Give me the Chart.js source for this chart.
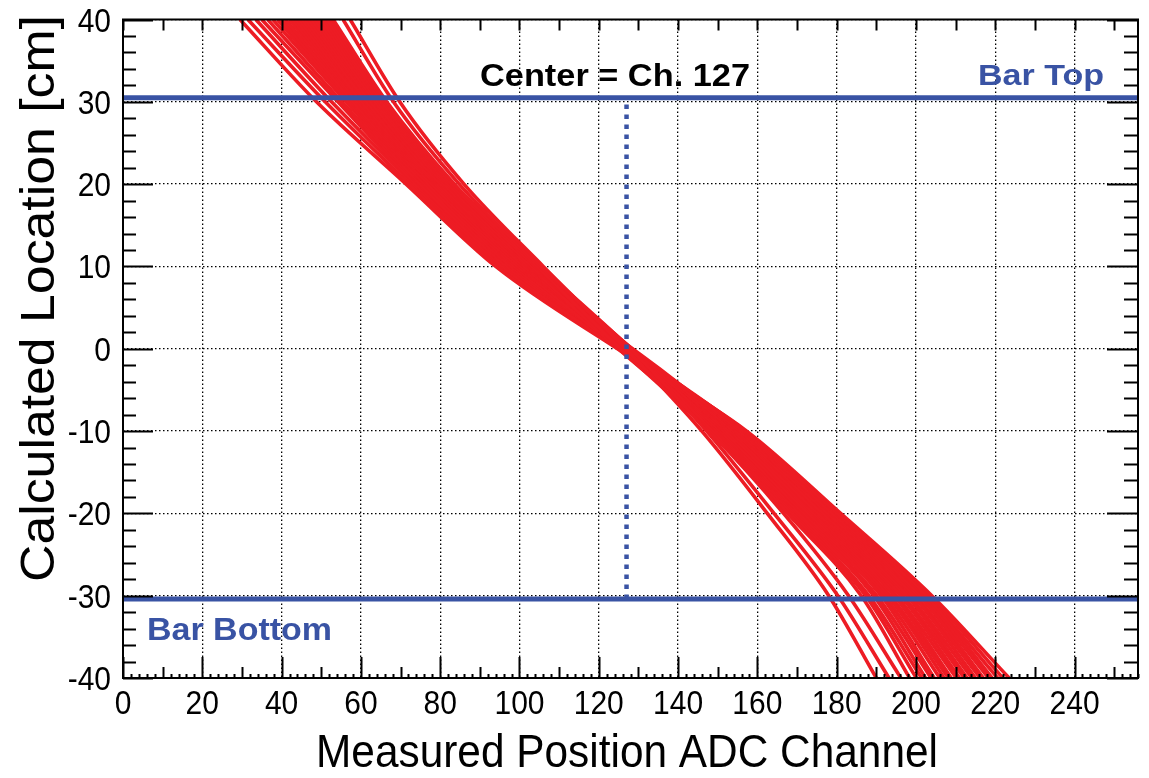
<!DOCTYPE html>
<html lang="en">
<head>
  <meta charset="UTF-8" />
  <title>Calculated Location vs Measured Position ADC Channel</title>
  <script src="https://cdn.jsdelivr.net/npm/chart.js"></script>
  <style>
    html, body { margin: 0; padding: 0; background: #fff; }
  </style>
</head>
<body>
  <canvas id="grafico" width="1149" height="778"></canvas>

  <script>
    // --- data ---
    const xTicks = [0, 20, 40, 60, 80, 100, 120, 140, 160, 180, 200, 220, 240];
    const yTicks = [-40, -30, -20, -10, 0, 10, 20, 30, 40];
    const xMin = 0, xMax = 256;
    const yMin = -40, yMax = 40;

    const barTopY = 30.5;
    const barBottomY = -30.4;
    const centerCh = 127;

    // each calibration curve: ADC channel at these locations [cm]
    const yLevels = [40, 30, 20, 10, 0, -10, -20, -30, -40];
    const curves = [
      [57.3, 69.8, 86.0, 106.0, 126.8, 146.0, 162.5, 178.0, 190.0],
      [55.5, 68.2, 84.8, 105.3, 127.9, 147.2, 164.2, 180.3, 193.2],
      [53.0, 66.5, 83.6, 104.6, 125.4, 147.8, 166.6, 183.0, 196.2],
      [52.3, 66.0, 83.0, 104.1, 128.2, 148.5, 167.6, 186.2, 198.4],
      [51.5, 65.4, 82.7, 103.9, 126.1, 148.8, 168.3, 187.3, 200.1],
      [50.8, 65.0, 82.1, 103.3, 127.5, 149.3, 168.9, 188.1, 201.4],
      [50.0, 64.4, 81.7, 103.0, 124.9, 149.5, 169.5, 189.3, 202.4],
      [49.2, 63.7, 81.1, 102.5, 126.6, 150.1, 170.2, 190.1, 203.8],
      [48.4, 63.3, 80.8, 102.2, 128.4, 150.3, 170.5, 191.2, 204.6],
      [47.6, 62.6, 80.2, 101.9, 125.8, 150.9, 171.3, 192.0, 206.0],
      [46.8, 62.3, 79.9, 101.3, 127.2, 151.1, 171.7, 192.9, 207.1],
      [46.0, 61.5, 79.4, 101.1, 126.3, 151.7, 172.5, 193.5, 208.2],
      [45.2, 61.1, 78.9, 100.5, 127.7, 152.0, 173.0, 194.5, 208.9],
      [44.4, 60.3, 78.6, 100.3, 125.1, 152.5, 173.7, 195.1, 210.2],
      [43.6, 59.9, 78.0, 99.7, 126.9, 152.7, 174.1, 196.1, 211.0],
      [42.8, 59.3, 77.8, 99.5, 128.0, 153.3, 174.9, 196.7, 212.2],
      [42.0, 58.9, 77.1, 98.9, 125.6, 153.6, 175.3, 197.7, 212.9],
      [41.0, 58.1, 76.9, 98.7, 127.3, 154.1, 176.2, 198.3, 214.1],
      [40.0, 57.6, 76.2, 98.0, 126.0, 154.3, 176.5, 199.3, 215.0],
      [39.0, 56.9, 75.9, 97.7, 128.5, 154.9, 177.3, 199.9, 216.2],
      [37.8, 56.3, 75.1, 97.0, 126.4, 155.2, 177.7, 200.9, 217.0],
      [36.5, 55.2, 74.7, 96.6, 127.6, 155.7, 178.5, 201.4, 218.3],
      [35.0, 54.2, 73.9, 95.9, 125.2, 156.1, 178.9, 202.3, 219.2],
      [33.5, 52.6, 73.3, 95.5, 127.0, 156.6, 179.7, 202.7, 220.6],
      [31.5, 51.0, 72.3, 94.7, 125.9, 156.9, 180.2, 203.5, 221.9],
      [29.5, 48.8, 71.4, 94.0, 124.7, 157.3, 181.0, 204.0, 223.5]
    ];

    const RED = '#ed1c24';
    const BLUE = '#3953a4';
    const FONT = '"Liberation Sans", Arial, Helvetica, sans-serif';

    // --- datasets ---
    const datasets = curves.map((c, i) => ({
      data: yLevels.map((y, j) => ({ x: c[j], y: y })),
      borderColor: RED,
      borderWidth: 3.6,
      pointRadius: 0,
      cubicInterpolationMode: 'monotone',
      clip: 0,
      order: 1 + i
    }));
    datasets.push({
      data: [{ x: xMin, y: barTopY }, { x: xMax, y: barTopY }],
      borderColor: BLUE, borderWidth: 5, pointRadius: 0, clip: 0, order: 0
    });
    datasets.push({
      data: [{ x: xMin, y: barBottomY }, { x: xMax, y: barBottomY }],
      borderColor: BLUE, borderWidth: 5, pointRadius: 0, clip: 0, order: 0
    });
    datasets.push({
      data: [{ x: centerCh, y: barBottomY }, { x: centerCh, y: barTopY }],
      borderColor: BLUE, borderWidth: 4.5, borderDash: [4.5, 5.5], borderCapStyle: 'butt',
      pointRadius: 0, clip: 0, order: 0
    });

    // text helpers
    function putText(ctx, txt, x, y, font, color, align, sx, sy, rot) {
      ctx.save();
      ctx.translate(x, y);
      if (rot) ctx.rotate(rot);
      ctx.scale(sx, sy);
      ctx.font = font;
      ctx.fillStyle = color;
      ctx.textAlign = align;
      ctx.textBaseline = 'alphabetic';
      ctx.fillText(txt, 0, 0);
      ctx.restore();
    }
    function fitText(ctx, txt, x, y, font, color, width, sy, rot) {
      ctx.font = font;
      const w = ctx.measureText(txt).width;
      putText(ctx, txt, x, y, font, color, 'center', width / w, sy, rot);
    }

    // ROOT-like frame, inward ticks, labels and titles
    const rootFrame = {
      id: 'rootFrame',
      afterDraw(chart) {
        const ctx = chart.ctx;
        const a = chart.chartArea;
        const xs = chart.scales.x, ys = chart.scales.y;

        ctx.save();
        ctx.strokeStyle = '#000';
        ctx.lineWidth = 2;
        ctx.beginPath();
        for (let v = xMin; v <= xMax; v += 2) {
          const px = Math.round(xs.getPixelForValue(v)) + 0.5;
          const lb = v % 20 === 0 ? 21 : (v % 10 === 0 ? 11 : 4);
          ctx.moveTo(px, a.bottom); ctx.lineTo(px, a.bottom - lb);
          if (v % 10 === 0) { ctx.moveTo(px, a.top); ctx.lineTo(px, a.top + 11); }
        }
        for (let v = yMin; v <= yMax; v += 2) {
          const py = Math.round(ys.getPixelForValue(v)) + 0.5;
          const major = v % 10 === 0;
          ctx.moveTo(a.left, py); ctx.lineTo(a.left + (major ? 30 : 13), py);
          ctx.moveTo(a.right, py); ctx.lineTo(a.right - (major ? 31 : 14), py);
        }
        ctx.stroke();
        ctx.strokeRect(a.left, a.top, a.right - a.left, a.bottom - a.top);
        ctx.restore();

        const tickFont = '30px ' + FONT;
        xTicks.forEach(v => {
          putText(ctx, String(v), xs.getPixelForValue(v), 714, tickFont, '#000', 'center', 1, 1.12);
        });
        yTicks.forEach(v => {
          putText(ctx, String(v), 111, ys.getPixelForValue(v) + 12, tickFont, '#000', 'right', 1, 1.12);
        });

        fitText(ctx, 'Measured Position ADC Channel', 627, 767, '42px ' + FONT, '#000', 622, 1.1);
        fitText(ctx, 'Calculated Location [cm]', 54, 298.5, '48px ' + FONT, '#000', 567, 1, -Math.PI / 2);

        fitText(ctx, 'Center = Ch. 127', 615, 86, 'bold 31px ' + FONT, '#000', 270, 1);
        fitText(ctx, 'Bar Top', 1041, 85, 'bold 29px ' + FONT, BLUE, 126, 1);
        fitText(ctx, 'Bar Bottom', 239.5, 640, 'bold 31px ' + FONT, BLUE, 185, 1);
      }
    };

    const ctxGrafico = document.getElementById('grafico').getContext('2d');
    new Chart(ctxGrafico, {
      type: 'line',
      data: { datasets: datasets },
      options: {
        responsive: false,
        animation: false,
        layout: { padding: { left: 123, right: 11, top: 19.5, bottom: 100 } },
        plugins: {
          legend: { display: false },
          tooltip: { enabled: false }
        },
        scales: {
          x: {
            type: 'linear',
            min: xMin,
            max: xMax,
            afterBuildTicks: s => { s.ticks = xTicks.map(v => ({ value: v })); },
            afterFit: s => { s.height = 0; },
            ticks: { display: false },
            grid: { color: '#000', lineWidth: 1.3, drawTicks: false },
            border: { display: false, dash: [1.5, 2.5] }
          },
          y: {
            type: 'linear',
            min: yMin,
            max: yMax,
            afterBuildTicks: s => { s.ticks = yTicks.map(v => ({ value: v })); },
            afterFit: s => { s.width = 0; },
            ticks: { display: false },
            grid: { color: '#000', lineWidth: 1.3, drawTicks: false },
            border: { display: false, dash: [1.5, 2.5] }
          }
        }
      },
      plugins: [rootFrame]
    });
  </script>
</body>
</html>
